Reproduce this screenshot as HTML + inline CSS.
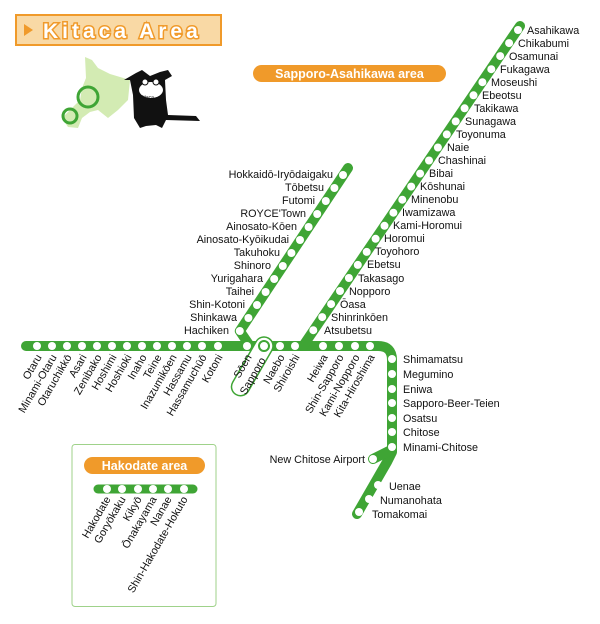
<!DOCTYPE html>
<html><head><meta charset="utf-8"><style>
html,body{margin:0;padding:0;background:#fff;}
svg{display:block;font-family:"Liberation Sans",Arial,sans-serif;}
.s{fill:#fff;}
.l{font-size:10.8px;fill:#111;}
</style></head><body>
<svg width="600" height="624" viewBox="0 0 600 624" xmlns="http://www.w3.org/2000/svg">
<!-- header -->
<rect x="16" y="15" width="205" height="30" fill="#f9d9a5" stroke="#f09a2a" stroke-width="2"/>
<polygon points="24,24 24,36 33,30" fill="#f09a2a"/>
<text x="43" y="38" font-size="21" font-weight="bold" fill="#fff" stroke="#f09a2a" stroke-width="3" paint-order="stroke" letter-spacing="4">Kitaca Area</text>
<!-- map -->
<polygon points="85,57 92,60 98,68 110,74 130,80 128,100 118,110 108,118 98,110 90,112 82,118 78,128 68,127 62,118 70,110 80,100 82,88 86,78" fill="#c8e6a0" opacity="0.8"/>
<circle cx="88" cy="97" r="10" fill="none" stroke="#3fa535" stroke-width="3"/>
<circle cx="70" cy="116" r="7" fill="none" stroke="#3fa535" stroke-width="3"/>
<!-- cat -->
<path d="M136,73 L142,70 L150,76 L160,72 L168,70 L172,76 L165,80 L166,100 L168,115 L196,116 L200,121 L166,120 L162,128 L156,125 L146,126 L140,128 L134,118 L133,95 L130,80 L124,80 Z" fill="#111"/>
<ellipse cx="151" cy="90" rx="12" ry="8" fill="#fff"/>
<circle cx="145" cy="82" r="3" fill="#fff" stroke="#111"/><circle cx="156" cy="82" r="3" fill="#fff" stroke="#111"/>
<text x="140" y="99" font-size="5" fill="#111">Kitaca</text>
<!-- Sapporo-Asahikawa pill -->
<rect x="253" y="65" width="193" height="17" rx="8.5" fill="#f09a2a"/>
<text x="349.5" y="78" text-anchor="middle" font-size="12.5" font-weight="bold" fill="#fff">Sapporo-Asahikawa area</text>

<g stroke="#3fa535" stroke-width="10" fill="none" stroke-linecap="round" stroke-linejoin="round">
<path d="M26 346 H378 Q392 346 392 360 V452 L387 462 L357 514"/>
<path d="M389 451 L373 459"/>
<path d="M348 168 L239.8 331 L250 346"/>
<path d="M520 26 L303 346"/>
</g>
<!-- main stations -->
<g class="s">
<circle cx="37" cy="346" r="4"/><circle cx="52" cy="346" r="4"/><circle cx="67" cy="346" r="4"/><circle cx="82" cy="346" r="4"/><circle cx="97" cy="346" r="4"/><circle cx="112" cy="346" r="4"/><circle cx="127" cy="346" r="4"/><circle cx="142" cy="346" r="4"/><circle cx="157" cy="346" r="4"/><circle cx="172" cy="346" r="4"/><circle cx="187" cy="346" r="4"/><circle cx="202" cy="346" r="4"/><circle cx="218" cy="346" r="4"/>
<circle cx="247" cy="346" r="4"/><circle cx="280" cy="346" r="4"/><circle cx="295" cy="346" r="4"/>
<circle cx="323" cy="346" r="4"/><circle cx="339" cy="346" r="4"/><circle cx="355" cy="346" r="4"/><circle cx="370" cy="346" r="4"/>
<circle cx="392" cy="359" r="4"/><circle cx="392" cy="374" r="4"/><circle cx="392" cy="389" r="4"/><circle cx="392" cy="403" r="4"/><circle cx="392" cy="418" r="4"/><circle cx="392" cy="432" r="4"/><circle cx="392" cy="447" r="4"/>
<circle cx="373" cy="459" r="4"/>
<circle cx="378" cy="485" r="4"/><circle cx="369" cy="499" r="4"/><circle cx="359" cy="512" r="4"/>
</g>
<!-- Sapporo -->
<g transform="translate(264,346) rotate(-60)">
<rect x="-56" y="-9" width="65" height="18" rx="9" fill="#fff" stroke="#3fa535" stroke-width="1.5"/>
</g>
<circle cx="264" cy="346" r="5" fill="#fff" stroke="#3fa535" stroke-width="2"/>

<!-- Asahikawa branch stations -->
<g class="s">
<circle cx="518" cy="30" r="4"/><circle cx="509.1" cy="43.1" r="4"/><circle cx="500.2" cy="56.1" r="4"/><circle cx="491.3" cy="69.2" r="4"/><circle cx="482.4" cy="82.2" r="4"/><circle cx="473.5" cy="95.3" r="4"/><circle cx="464.6" cy="108.3" r="4"/><circle cx="455.7" cy="121.4" r="4"/><circle cx="446.8" cy="134.4" r="4"/><circle cx="437.9" cy="147.5" r="4"/><circle cx="429" cy="160.5" r="4"/><circle cx="420.1" cy="173.6" r="4"/><circle cx="411.2" cy="186.6" r="4"/><circle cx="402.3" cy="199.7" r="4"/><circle cx="393.4" cy="212.7" r="4"/><circle cx="384.5" cy="225.8" r="4"/><circle cx="375.6" cy="238.8" r="4"/><circle cx="366.7" cy="251.9" r="4"/><circle cx="357.8" cy="264.9" r="4"/><circle cx="348.9" cy="278" r="4"/><circle cx="340" cy="291" r="4"/><circle cx="331.1" cy="304.1" r="4"/><circle cx="322.2" cy="317.1" r="4"/><circle cx="313.3" cy="330.2" r="4"/>
</g>
<g class="l">
<text x="527" y="34">Asahikawa</text><text x="518" y="47">Chikabumi</text><text x="509" y="60">Osamunai</text><text x="500" y="73">Fukagawa</text><text x="491" y="86">Moseushi</text><text x="482" y="99">Ebeotsu</text><text x="474" y="112">Takikawa</text><text x="465" y="125">Sunagawa</text><text x="456" y="138">Toyonuma</text><text x="447" y="151">Naie</text><text x="438" y="164">Chashinai</text><text x="429" y="177">Bibai</text><text x="420" y="190">Kōshunai</text><text x="411" y="203">Minenobu</text><text x="402" y="216">Iwamizawa</text><text x="393" y="229">Kami-Horomui</text><text x="384" y="242">Horomui</text><text x="375" y="255">Toyohoro</text><text x="367" y="268">Ebetsu</text><text x="358" y="282">Takasago</text><text x="349" y="295">Nopporo</text><text x="340" y="308">Ōasa</text><text x="331" y="321">Shinrinkōen</text><text x="324" y="334">Atsubetsu</text>
</g>
<!-- Iryo branch -->
<g class="s">
<circle cx="343" cy="175" r="4"/><circle cx="334.4" cy="188" r="4"/><circle cx="325.8" cy="201" r="4"/><circle cx="317.2" cy="214" r="4"/><circle cx="308.6" cy="227" r="4"/><circle cx="300" cy="240" r="4"/><circle cx="291.4" cy="253" r="4"/><circle cx="282.8" cy="266" r="4"/><circle cx="274.2" cy="279" r="4"/><circle cx="265.6" cy="292" r="4"/><circle cx="257" cy="305" r="4"/><circle cx="248.4" cy="318" r="4"/><circle cx="239.8" cy="331" r="4"/>
</g>
<g class="l" text-anchor="end">
<text x="333" y="178">Hokkaidō-Iryōdaigaku</text><text x="324" y="191">Tōbetsu</text><text x="315" y="204">Futomi</text><text x="306" y="217">ROYCE'Town</text><text x="297" y="230">Ainosato-Kōen</text><text x="289" y="243">Ainosato-Kyōikudai</text><text x="280" y="256">Takuhoku</text><text x="271" y="269">Shinoro</text><text x="263" y="282">Yurigahara</text><text x="254" y="295">Taihei</text><text x="245" y="308">Shin-Kotoni</text><text x="237" y="321">Shinkawa</text><text x="229" y="334">Hachiken</text>
</g>
<!-- rotated main labels -->
<g class="l" text-anchor="end">
<text transform="translate(42,357) rotate(-60)">Otaru</text>
<text transform="translate(57,357) rotate(-60)">Minami-Otaru</text>
<text transform="translate(72,357) rotate(-60)">Otaruchikkō</text>
<text transform="translate(87,357) rotate(-60)">Asari</text>
<text transform="translate(102,357) rotate(-60)">Zenibako</text>
<text transform="translate(117,357) rotate(-60)">Hoshimi</text>
<text transform="translate(132,357) rotate(-60)">Hoshioki</text>
<text transform="translate(147,357) rotate(-60)">Inaho</text>
<text transform="translate(162,357) rotate(-60)">Teine</text>
<text transform="translate(177,357) rotate(-60)">Inazumikōen</text>
<text transform="translate(192,357) rotate(-60)">Hassamu</text>
<text transform="translate(207,357) rotate(-60)">Hassamuchūō</text>
<text transform="translate(223,357) rotate(-60)">Kotoni</text>
<text transform="translate(252,357) rotate(-60)">Sōen</text>
<text transform="translate(266,360) rotate(-60)">Sapporo</text>
<text transform="translate(285,357) rotate(-60)">Naebo</text>
<text transform="translate(300,357) rotate(-60)">Shiroishi</text>
<text transform="translate(328,357) rotate(-60)">Heiwa</text>
<text transform="translate(344,357) rotate(-60)">Shin-Sapporo</text>
<text transform="translate(360,357) rotate(-60)">Kami-Nopporo</text>
<text transform="translate(375,357) rotate(-60)">Kita-Hiroshima</text>
</g>
<g class="l">
<text x="403" y="363">Shimamatsu</text><text x="403" y="378">Megumino</text><text x="403" y="393">Eniwa</text><text x="403" y="407">Sapporo-Beer-Teien</text><text x="403" y="422">Osatsu</text><text x="403" y="436">Chitose</text><text x="403" y="451">Minami-Chitose</text>
<text x="365" y="463" text-anchor="end">New Chitose Airport</text>
<text x="389" y="490">Uenae</text><text x="380" y="504">Numanohata</text><text x="372" y="518">Tomakomai</text>
</g>
<!-- Hakodate box -->
<rect x="72" y="444.5" width="144" height="162" rx="3" fill="none" stroke="#9fd28a" stroke-width="1"/>
<rect x="84" y="457" width="121" height="17" rx="8.5" fill="#f09a2a"/>
<text x="144.5" y="470" text-anchor="middle" font-size="12.5" font-weight="bold" fill="#fff">Hakodate area</text>
<line x1="98" y1="489" x2="193" y2="489" stroke="#3fa535" stroke-width="9" stroke-linecap="round"/>
<g class="s"><circle cx="107" cy="489" r="4"/><circle cx="122" cy="489" r="4"/><circle cx="138" cy="489" r="4"/><circle cx="153" cy="489" r="4"/><circle cx="168" cy="489" r="4"/><circle cx="184" cy="489" r="4"/></g>
<g class="l" text-anchor="end">
<text transform="translate(111,499) rotate(-60)">Hakodate</text>
<text transform="translate(126,499) rotate(-60)">Goryōkaku</text>
<text transform="translate(142,499) rotate(-60)">Kikyō</text>
<text transform="translate(157,499) rotate(-60)">Ōnakayama</text>
<text transform="translate(172,499) rotate(-60)">Nanae</text>
<text transform="translate(188,499) rotate(-60)">Shin-Hakodate-Hokuto</text>
</g>
</svg>
</body></html>
